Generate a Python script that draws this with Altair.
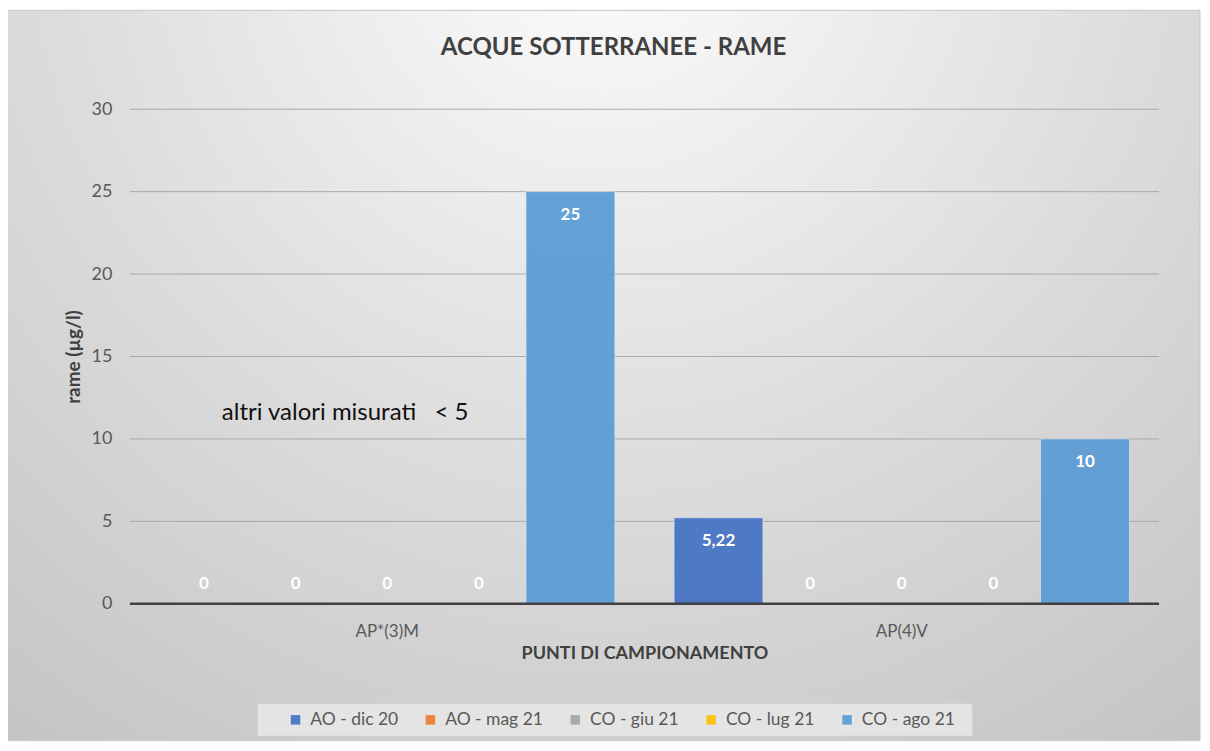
import altair as alt
import pandas as pd

points = ["AP*(3)M", "AP(4)V"]
series = ["AO - dic 20", "AO - mag 21", "CO - giu 21", "CO - lug 21", "CO - ago 21"]
colors = ["#4472C4", "#ED7D31", "#A5A5A5", "#FFC000", "#5B9BD5"]
values_ap3m = [0, 0, 0, 0, 25]
values_ap4v = [5.22, 0, 0, 0, 10]
y_ticks = [0, 5, 10, 15, 20, 25, 30]
grid_ticks = [5, 10, 15, 20, 25, 30]
title_text = "ACQUE SOTTERRANEE - RAME"
y_title = "rame (µg/l)"
x_title = "PUNTI DI CAMPIONAMENTO"
annotation = "altri valori misurati\u00a0\u00a0\u00a0< 5"
annotation_y = [11.6]

rows = []
for p, vals in zip(points, [values_ap3m, values_ap4v]):
    for s, v in zip(series, vals):
        rows.append({"punto": p, "serie": s, "valore": v,
                     "etichetta": (f"{v:g}").replace(".", ",")})
df = pd.DataFrame(rows)

W, H = 1030, 495
PL, PT, PR, PB = 122, 101, 43, 139
FONT = "Lato"

x_enc = alt.X("punto:N", sort=points,
              scale=alt.Scale(paddingInner=0.115, paddingOuter=0.0575),
              axis=alt.Axis(title=x_title, labelAngle=0, labelFontSize=17, labelColor="#595959",
                            labelFont=FONT, labelPadding=20, ticks=False, domain=False, grid=False,
                            titleFont=FONT, titleFontSize=18, titleFontWeight="bold",
                            titleColor="#404040", titlePadding=5, zindex=1))
xo_enc = alt.XOffset("serie:N", sort=series, scale=alt.Scale(paddingInner=0.03))
y_scale = alt.Scale(domain=[0, 30], nice=False)

bg = alt.Chart(pd.DataFrame({"a": [0]})).mark_rect(
    fill={"gradient": "radial", "x1": 0.5, "y1": 0.12, "r1": 0.0,
          "x2": 0.5, "y2": 0.12, "r2": 0.85,
          "stops": [{"offset": 0, "color": "#fdfdfd"},
                    {"offset": 0.55, "color": "#dcdcdc"},
                    {"offset": 1, "color": "#c4c4c4"}]},
    stroke="#c8c8c8", strokeWidth=1
).encode(x=alt.value(-PL - 2), x2=alt.value(W + PR - 2),
         y=alt.value(-PT + 2), y2=alt.value(H + PB - 2))

grid = alt.Chart(pd.DataFrame({"g": grid_ticks})).mark_rule(color="#a9a9a9", strokeWidth=1).encode(
    y=alt.Y("g:Q", scale=y_scale))

bars = alt.Chart(df).mark_bar(stroke="#e8eef6", strokeWidth=1, strokeOpacity=0.6, opacity=0.93).encode(
    x=x_enc, xOffset=xo_enc,
    y=alt.Y("valore:Q", scale=y_scale,
            axis=alt.Axis(title=y_title, values=y_ticks, labelFontSize=18, labelColor="#595959",
                          labelFont=FONT, labelPadding=18, ticks=False, domain=False, grid=False,
                          titleFont=FONT, titleFontSize=19, titleFontWeight="bold",
                          titleColor="#404040", titlePadding=8, zindex=1)),
    color=alt.Color("serie:N", sort=series, scale=alt.Scale(domain=series, range=colors),
                    legend=alt.Legend(title="\u00a0", titleOrient="right", titlePadding=10,
                                      orient="none", direction="horizontal",
                                      legendX=128, legendY=595,
                                      fillColor="#e4e4e4", padding=7,
                                      symbolType="square", symbolSize=90, symbolStrokeWidth=0,
                                      labelFont=FONT, labelFontSize=17.5, labelColor="#595959",
                                      columnPadding=1, symbolOffset=22, labelOffset=6))
)

zero_rule = alt.Chart(pd.DataFrame({"z": [0]})).mark_rule(color="#404040", strokeWidth=2.5).encode(
    y=alt.Y("z:Q", scale=y_scale))

lab_pos = alt.Chart(df).transform_filter("datum.valore > 0").mark_text(
    color="white", fontWeight="bold", fontSize=17, font=FONT, baseline="middle", dy=23
).encode(x=x_enc, xOffset=xo_enc, y=alt.Y("valore:Q", scale=y_scale), text="etichetta:N")

lab_zero = alt.Chart(df).transform_filter("datum.valore == 0").mark_text(
    color="white", fontWeight="bold", fontSize=17, font=FONT, baseline="middle", dy=-20
).encode(x=x_enc, xOffset=xo_enc, y=alt.Y("valore:Q", scale=y_scale), text="etichetta:N")

annot = alt.Chart(pd.DataFrame({"t": [annotation], "y": annotation_y})).mark_text(
    align="left", baseline="middle", fontSize=24, font=FONT, color="#111111"
).encode(x=alt.value(92), y=alt.Y("y:Q", scale=y_scale), text="t:N")

title = alt.Chart(pd.DataFrame({"t": [title_text]})).mark_text(
    align="center", baseline="middle", fontSize=24, font=FONT, fontWeight="bold", color="#404040"
).encode(x=alt.value(484), y=alt.value(-61), text="t:N")

chart = alt.layer(bg, grid, bars, zero_rule, lab_pos, lab_zero, annot, title).properties(
    width=W, height=H,
    autosize=alt.AutoSizeParams(type="none"),
    padding={"left": PL, "top": PT, "right": PR, "bottom": PB}
).configure(background="white").configure_view(stroke=None)

chart.save("out.html", embed_options={"renderer": "svg", "actions": False})
